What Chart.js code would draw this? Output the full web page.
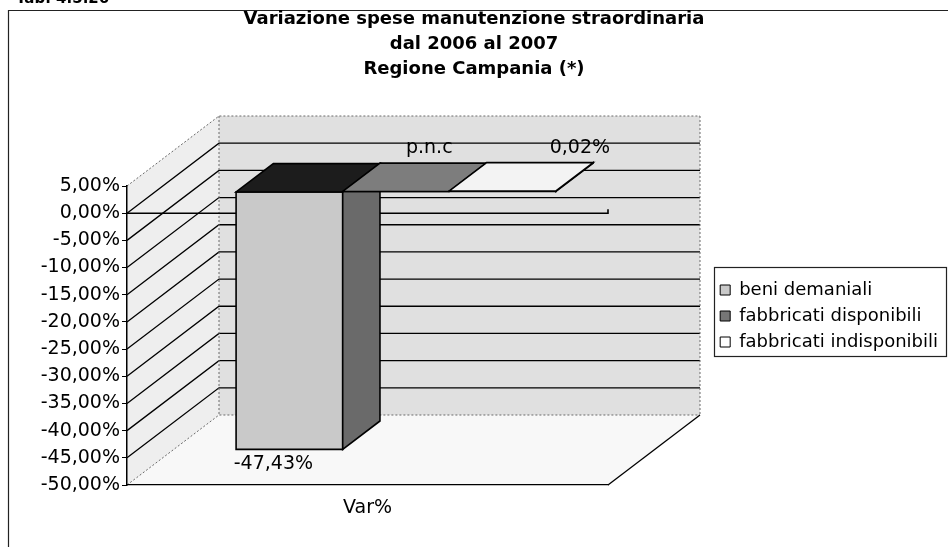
<!DOCTYPE html>
<html>
<head>
<meta charset="utf-8">
<script src="https://cdn.jsdelivr.net/npm/chart.js@4.4.1/dist/chart.umd.min.js"></script>
<style>
  html, body { margin: 0; padding: 0; background: #ffffff; }
  #wrap { width: 948px; height: 547px; position: relative; }
  canvas { display: block; }
</style>
</head>
<body>
<div id="wrap"><canvas id="chart" width="948" height="547"></canvas></div>
<script>
// ---------- data ----------
const categories = ['Var%'];
const seriesNames = ['beni demaniali', 'fabbricati disponibili', 'fabbricati indisponibili'];
const beniDemaniali = [-47.43];
const fabbricatiDisponibili = [0];      // p.n.c (not communicated)
const fabbricatiIndisponibili = [0.02];
const valueLabels = ['-47,43%', 'p.n.c', '0,02%'];
const yMin = -50;
const yMax = 5;
const yStep = 5;
const titleLines = ['Variazione spese manutenzione straordinaria', 'dal 2006 al 2007', 'Regione Campania (*)'];
const tableTag = 'Tab. 4.5.26';

// ---------- style ----------
const FONT = 'DejaVu Sans';
const DEPTH = { dx: 92, dy: -70 };
const BAR_FRONT = 0.31;
const BAR_BACK = 0.715;
const faceStyles = [
  { front: '#c9c9c9', top: '#1c1c1c', side: '#6a6a6a' },
  { front: '#767676', top: '#7d7d7d', side: '#4c4c4c' },
  { front: '#f6f6f6', top: '#f3f3f3', side: '#d2d2d2' }
];
const labelPlacement = [
  { anchor: 'frontBottom', dx: -16, dy: 15 },
  { anchor: 'backTop', dx: -4, dy: -15 },
  { anchor: 'backTop', dx: 40, dy: -15 }
];

function fmtPct(v) {
  return v.toFixed(2).replace('.', ',') + '%';
}

function poly(ctx, pts, fill, stroke, lw) {
  ctx.beginPath();
  ctx.moveTo(pts[0][0], pts[0][1]);
  for (let i = 1; i < pts.length; i++) ctx.lineTo(pts[i][0], pts[i][1]);
  ctx.closePath();
  if (fill) { ctx.fillStyle = fill; ctx.fill(); }
  if (stroke) { ctx.strokeStyle = stroke; ctx.lineWidth = lw || 1; ctx.stroke(); }
}
function seg(ctx, pts, color, lw, dash) {
  ctx.beginPath();
  ctx.moveTo(pts[0][0], pts[0][1]);
  for (let i = 1; i < pts.length; i++) ctx.lineTo(pts[i][0], pts[i][1]);
  ctx.strokeStyle = color; ctx.lineWidth = lw; ctx.setLineDash(dash || []);
  ctx.stroke();
  ctx.setLineDash([]);
}

const excel3d = {
  id: 'excel3d',
  beforeDraw(chart) {
    const { ctx, chartArea: a, scales } = chart;
    const y = scales.y;
    const dx = DEPTH.dx, dy = DEPTH.dy;
    ctx.save();
    ctx.fillStyle = '#ffffff';
    ctx.fillRect(0, 0, chart.width, chart.height);

    // outer frame (left + top visible in scan)
    seg(ctx, [[8.5, 548], [8.5, 10.5], [948, 10.5]], '#222', 1.2);

    const yTop = y.getPixelForValue(y.max);
    const yBot = y.getPixelForValue(y.min);
    const L = a.left, R = a.right;

    // walls and floor
    poly(ctx, [[L, yTop], [L + dx, yTop + dy], [L + dx, yBot + dy], [L, yBot]], '#eeeeee');
    poly(ctx, [[L + dx, yTop + dy], [R + dx, yTop + dy], [R + dx, yBot + dy], [L + dx, yBot + dy]], '#e0e0e0');
    poly(ctx, [[L, yBot], [R, yBot], [R + dx, yBot + dy], [L + dx, yBot + dy]], '#f8f8f8');

    // gridlines on side + back wall
    y.ticks.forEach(t => {
      const py = y.getPixelForValue(t.value);
      const edge = (t.value === y.max || t.value === y.min);
      if (edge) {
        seg(ctx, [[L, py], [L + dx, py + dy], [R + dx, py + dy]], '#6a6a6a', 1, [2, 2]);
      } else {
        seg(ctx, [[L, py], [L + dx, py + dy], [R + dx, py + dy]], '#000', 1.3);
      }
    });
    // wall edges
    seg(ctx, [[L + dx, yTop + dy], [L + dx, yBot + dy]], '#6a6a6a', 1, [2, 2]);
    seg(ctx, [[R + dx, yTop + dy], [R + dx, yBot + dy]], '#6a6a6a', 1, [2, 2]);
    seg(ctx, [[R, yBot], [R + dx, yBot + dy]], '#000', 1.3);

    // zero line at the front
    const y0 = y.getPixelForValue(0);
    seg(ctx, [[L, y0], [R, y0], [R, y0 - 4]], '#000', 1.6);
    ctx.restore();
  },
  beforeDatasetDraw() {
    return false;
  },
  afterDatasetsDraw(chart) {
    const { ctx } = chart;
    const dx = DEPTH.dx, dy = DEPTH.dy;
    const fx = dx * BAR_FRONT, fy = dy * BAR_FRONT;
    const bx = dx * BAR_BACK, by = dy * BAR_BACK;
    ctx.save();
    ctx.lineJoin = 'miter';
    chart.data.datasets.forEach((ds, i) => {
      const meta = chart.getDatasetMeta(i);
      meta.data.forEach((el) => {
        const p = el.getProps(['x', 'y', 'base', 'width'], true);
        const l = p.x - p.width / 2, r = p.x + p.width / 2;
        const top = Math.min(p.y, p.base), bot = Math.max(p.y, p.base);
        const st = faceStyles[i];
        poly(ctx, [[l + fx, top + fy], [r + fx, top + fy], [r + fx, bot + fy], [l + fx, bot + fy]], st.front, '#000', 1.6);
        poly(ctx, [[r + fx, top + fy], [r + bx, top + by], [r + bx, bot + by], [r + fx, bot + fy]], st.side, '#000', 1.6);
        poly(ctx, [[l + fx, top + fy], [r + fx, top + fy], [r + bx, top + by], [l + bx, top + by]], st.top, '#000', 1.6);

        const lp = labelPlacement[i];
        let lx, ly;
        if (lp.anchor === 'frontBottom') {
          lx = p.x + fx + lp.dx; ly = bot + fy + lp.dy;
        } else {
          lx = p.x + bx + lp.dx; ly = top + by + lp.dy;
        }
        ctx.fillStyle = '#000';
        ctx.font = '19px "' + FONT + '"';
        ctx.textAlign = 'center';
        ctx.textBaseline = 'middle';
        ctx.fillText(valueLabels[i], lx, ly);
      });
    });
    ctx.restore();
  },
  afterDraw(chart) {
    const { ctx } = chart;
    ctx.save();
    // legend frame
    const lg = chart.legend;
    if (lg && lg.legendHitBoxes && lg.legendHitBoxes.length) {
      const hb = lg.legendHitBoxes;
      const first = hb[0], last = hb[hb.length - 1];
      const x0 = Math.round(first.left - 6) + 0.5;
      const y0 = Math.round(first.top - 14) + 0.5;
      const y1 = Math.round(last.top + last.height + 5) + 0.5;
      ctx.strokeStyle = '#222';
      ctx.lineWidth = 1.2;
      ctx.strokeRect(x0, y0, 946.5 - x0, y1 - y0);
    }
    // cut-off table tag at the very top
    ctx.fillStyle = '#000';
    ctx.font = 'bold 15px "' + FONT + '"';
    ctx.textAlign = 'left';
    ctx.textBaseline = 'alphabetic';
    ctx.fillText(tableTag, 16, 3);
    ctx.restore();
  }
};

const ctx = document.getElementById('chart').getContext('2d');
new Chart(ctx, {
  type: 'bar',
  data: {
    labels: categories,
    datasets: [
      { label: seriesNames[0], data: beniDemaniali, backgroundColor: faceStyles[0].front, borderColor: '#000', borderWidth: 1 },
      { label: seriesNames[1], data: fabbricatiDisponibili, backgroundColor: faceStyles[1].front, borderColor: '#000', borderWidth: 1 },
      { label: seriesNames[2], data: fabbricatiIndisponibili, backgroundColor: '#ffffff', borderColor: '#000', borderWidth: 1 }
    ]
  },
  options: {
    responsive: false,
    animation: false,
    devicePixelRatio: 1,
    layout: { padding: 0 },
    datasets: { bar: { categoryPercentage: 0.665, barPercentage: 1 } },
    scales: {
      x: {
        grid: { display: false, drawTicks: false },
        border: { display: true, color: '#000', width: 1.3 },
        ticks: { color: '#000', font: { family: FONT, size: 19 }, padding: 12 },
        afterFit(s) { s.height = 62; }
      },
      y: {
        min: yMin,
        max: yMax,
        ticks: {
          stepSize: yStep,
          color: '#000',
          font: { family: FONT, size: 19 },
          padding: 2,
          callback: (v) => fmtPct(v)
        },
        grid: { display: true, drawOnChartArea: false, drawTicks: true, tickLength: 5, color: '#000', lineWidth: 1 },
        border: { display: true, color: '#000', width: 1.5 },
        afterFit(s) { s.width = 127; }
      },
      gap: {
        type: 'linear',
        position: 'right',
        display: true,
        grid: { display: false, drawTicks: false },
        border: { display: false },
        ticks: { display: false },
        afterFit(s) {
          const lw = (s.chart.legend && s.chart.legend.width) ? s.chart.legend.width : 234;
          s.width = Math.max(0, 948 - 608 - lw);
        }
      }
    },
    plugins: {
      title: {
        display: true,
        text: titleLines,
        color: '#000',
        font: { family: FONT, size: 18, weight: 'bold', lineHeight: 25 / 18 },
        padding: { top: 6.5, bottom: 104.5 }
      },
      legend: {
        display: true,
        position: 'right',
        fullSize: false,
        align: 'start',
        maxWidth: 260,
        title: { display: true, text: '', font: { size: 10, lineHeight: 1.2 }, padding: { top: 75, bottom: 0 } },
        labels: {
          color: '#000',
          font: { family: FONT, size: 18 },
          boxWidth: 10,
          boxHeight: 10,
          padding: 8
        }
      },
      tooltip: { enabled: false }
    }
  },
  plugins: [excel3d]
});
</script>
</body>
</html>
